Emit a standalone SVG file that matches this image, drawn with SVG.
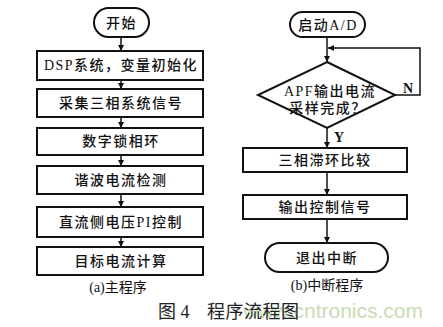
<svg xmlns="http://www.w3.org/2000/svg" width="443" height="327" viewBox="0 0 443 327">
<defs>
<marker id="ah" viewBox="0 0 10 10" refX="10" refY="5" markerWidth="6" markerHeight="6" markerUnits="userSpaceOnUse" orient="auto">
<path d="M0,0 L10,5 L0,10 z" fill="#111"/>
</marker>
<style>
.box{fill:#fff;stroke:#111;stroke-width:2}
.ln{fill:none;stroke:#111;stroke-width:1.5}
.t{font-family:"Liberation Serif","Noto Sans CJK SC",serif;font-size:14px;font-weight:500;fill:#111;text-anchor:middle;letter-spacing:1.5px}
.cap{font-family:"Liberation Serif","Noto Sans CJK SC",serif;font-size:14px;fill:#111;text-anchor:middle}
.fig{font-family:"Liberation Serif","Noto Sans CJK SC",serif;font-size:18px;fill:#222}
.wm{font-family:"Liberation Sans",Arial,sans-serif;font-size:21px;fill:#c6dcb6;text-anchor:end}
</style>
</defs>
<rect width="443" height="327" fill="#fff"/>
<text class="wm" x="423" y="318">www.cntronics.com</text>

<g id="connectors">
<line class="ln" x1="121" y1="37" x2="121" y2="51" marker-end="url(#ah)"/>
<line class="ln" x1="121" y1="80" x2="121" y2="89" marker-end="url(#ah)"/>
<line class="ln" x1="121" y1="117" x2="121" y2="128" marker-end="url(#ah)"/>
<line class="ln" x1="121" y1="155" x2="121" y2="166" marker-end="url(#ah)"/>
<line class="ln" x1="121" y1="194" x2="121" y2="207" marker-end="url(#ah)"/>
<line class="ln" x1="121" y1="237" x2="121" y2="247" marker-end="url(#ah)"/>
<line class="ln" x1="327" y1="37" x2="327" y2="62" marker-end="url(#ah)"/>
<polyline class="ln" points="395,95 420,95 420,48 328,48" marker-end="url(#ah)"/>
<line class="ln" x1="327" y1="128" x2="327" y2="148" marker-end="url(#ah)"/>
<line class="ln" x1="327" y1="172" x2="327" y2="195" marker-end="url(#ah)"/>
<line class="ln" x1="327" y1="219" x2="327" y2="243" marker-end="url(#ah)"/>
<text class="cap" x="408" y="93" style="font-weight:bold">N</text>
<text class="cap" x="339" y="142" style="font-weight:bold">Y</text>
</g>

<g id="start"><rect class="box" x="94" y="8" width="55" height="29" rx="14.5"/><text class="t" x="121.5" y="28">开始</text></g>
<g id="init"><rect class="box" x="37" y="51" width="166" height="29"/><text class="t" x="121" y="70">DSP系统，变量初始化</text></g>
<g id="sample"><rect class="box" x="37" y="89" width="166" height="28"/><text class="t" x="121" y="108">采集三相系统信号</text></g>
<g id="pll"><rect class="box" x="37" y="128" width="166" height="27"/><text class="t" x="121" y="146">数字锁相环</text></g>
<g id="harm"><rect class="box" x="37" y="166" width="166" height="28"/><text class="t" x="121" y="185">谐波电流检测</text></g>
<g id="dcpi"><rect class="box" x="37" y="207" width="166" height="30"/><text class="t" x="121" y="227">直流侧电压PI控制</text></g>
<g id="target"><rect class="box" x="37" y="247" width="166" height="28"/><text class="t" x="121" y="266">目标电流计算</text></g>
<text class="cap" x="118" y="292">(a)主程序</text>

<g id="startad"><rect class="box" x="290" y="12" width="75" height="25" rx="12.5"/><text class="t" x="328" y="30">启动A/D</text></g>
<g id="check"><polygon class="box" points="327,62 395,95 327,128 258,95"/><text class="t" x="330" y="96">APF输出电流</text><text class="t" x="328" y="113">采样完成？</text></g>
<g id="hyst"><rect class="box" x="243" y="148" width="164" height="24"/><text class="t" x="325" y="165">三相滞环比较</text></g>
<g id="out"><rect class="box" x="243" y="195" width="164" height="24"/><text class="t" x="325" y="212">输出控制信号</text></g>
<g id="exit"><rect class="box" x="265" y="243" width="123" height="29" rx="14.5"/><text class="t" x="327" y="263">退出中断</text></g>
<text class="cap" x="327" y="290">(b)中断程序</text>

<text class="fig" x="158" y="318" xml:space="preserve">图 4</text>
<text class="fig" x="207" y="318" style="letter-spacing:0.5px">程序流程图</text>
</svg>
